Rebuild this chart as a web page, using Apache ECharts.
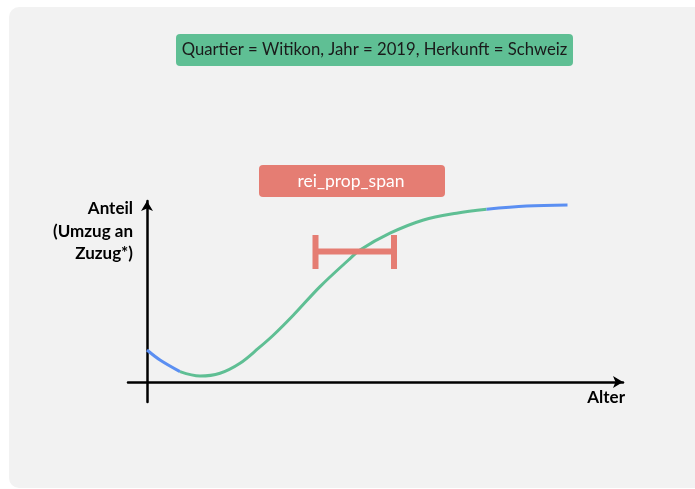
<!DOCTYPE html>
<html>
<head>
<meta charset="utf-8">
<script src="https://cdn.jsdelivr.net/npm/echarts@6/dist/echarts.min.js"></script>
<style>
html,body{margin:0;padding:0;background:#ffffff;}
#chart{width:695px;height:489px;}
</style>
</head>
<body>
<div id="chart"></div>
<script>
// Curve segments: [Alter, Anteil]
var curveStart = [[0, 16], [2.6, 11], [6.6, 5.2]];
var curveMiddle = [[6.6, 5.2], [10.6, 3], [14.6, 4.4], [18.6, 9.4], [22.3, 16.9], [25.3, 23.5], [29.3, 33.5], [34.6, 47.7], [40.3, 61], [42.6, 66], [48.6, 74.4], [55.3, 81], [61.9, 84.4], [67.9, 86.4]];
var curveEnd = [[67.9, 86.4], [75.9, 88], [84.1, 88.5]];
// Span bar (rei_prop_span)
var spanLow = 33.7;
var spanHigh = 49.4;
var spanY = 65.3;
var capLow = 56.5;
var capHigh = 73.5;

var titleText = 'Quartier = Witikon, Jahr = 2019, Herkunft = Schweiz';
var spanLabel = 'rei_prop_span';
var yName = ['Anteil', '(Umzug an', 'Zuzug*)'];
var xName = 'Alter';

var FONT = 'Lato';
var chart = echarts.init(document.getElementById('chart'));
var blue = '#5b8ff2';
var green = '#5fbf94';
var red = '#e57d73';

function seg(data, color, width) {
  return {
    type: 'line', data: data, smooth: 0.35, symbol: 'none', clip: false,
    lineStyle: {color: color, width: width}, z: 3, silent: true
  };
}

chart.setOption({
  animation: false,
  backgroundColor: '#ffffff',
  grid: {left: 128, right: 72, top: 201, bottom: 87},
  xAxis: {
    type: 'value', min: -3.8, max: 95.2,
    axisLine: {show: true, onZero: true, symbol: ['none', 'arrow'], symbolSize: [9, 10], symbolOffset: [0, 0], lineStyle: {color: '#000', width: 2.5}},
    axisTick: {show: false}, axisLabel: {show: false}, splitLine: {show: false}
  },
  yAxis: {
    type: 'value', min: -10, max: 90.5,
    axisLine: {show: true, onZero: true, symbol: ['none', 'arrow'], symbolSize: [9, 10], symbolOffset: [0, 0], lineStyle: {color: '#000', width: 2.5}},
    axisTick: {show: false}, axisLabel: {show: false}, splitLine: {show: false}
  },
  graphic: [
    {type: 'rect', z: -10, shape: {x: 9, y: 7, width: 700, height: 481, r: 10}, style: {fill: '#f2f2f2'}},
    {type: 'rect', z: 5, shape: {x: 176, y: 34, width: 397, height: 32, r: 4}, style: {fill: green}},
    {type: 'text', z: 6, x: 374.5, y: 50, style: {text: titleText, fill: '#1a1a1a', font: '16.7px ' + FONT, align: 'center', verticalAlign: 'middle'}},
    {type: 'rect', z: 5, shape: {x: 259, y: 165, width: 186, height: 32, r: 4}, style: {fill: red}},
    {type: 'text', z: 6, x: 351, y: 181, style: {text: spanLabel, fill: '#ffffff', font: '17.5px ' + FONT, align: 'center', verticalAlign: 'middle'}},
    {type: 'text', z: 6, x: 133, y: 209, style: {text: yName[0], fill: '#000', font: 'bold 17px ' + FONT, align: 'right', verticalAlign: 'middle'}},
    {type: 'text', z: 6, x: 133, y: 232, style: {text: yName[1], fill: '#000', font: 'bold 17px ' + FONT, align: 'right', verticalAlign: 'middle'}},
    {type: 'text', z: 6, x: 133, y: 254, style: {text: yName[2], fill: '#000', font: 'bold 17px ' + FONT, align: 'right', verticalAlign: 'middle'}},
    {type: 'text', z: 6, x: 625, y: 398, style: {text: xName, fill: '#000', font: 'bold 17px ' + FONT, align: 'right', verticalAlign: 'middle'}}
  ],
  series: [
    seg(curveStart, blue, 3),
    seg(curveMiddle, green, 3),
    seg(curveEnd, blue, 3),
    {type: 'line', data: [[spanLow, spanY], [spanHigh, spanY]], symbol: 'none', lineStyle: {color: red, width: 6, cap: 'butt'}, z: 4, silent: true},
    {type: 'line', data: [[spanLow, capLow], [spanLow, capHigh]], symbol: 'none', lineStyle: {color: red, width: 6, cap: 'butt'}, z: 4, silent: true},
    {type: 'line', data: [[spanHigh, capLow], [spanHigh, capHigh]], symbol: 'none', lineStyle: {color: red, width: 6, cap: 'butt'}, z: 4, silent: true}
  ]
});
</script>
</body>
</html>
